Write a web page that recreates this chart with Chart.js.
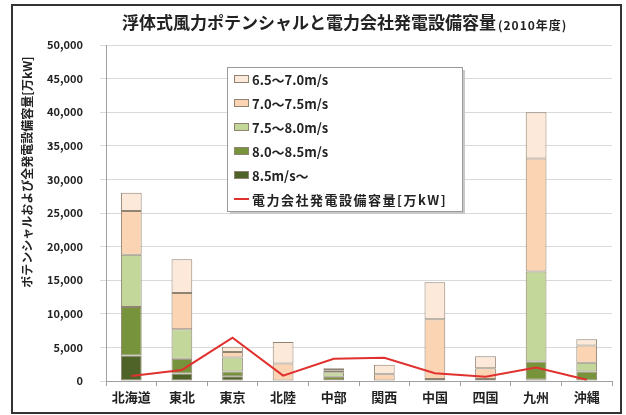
<!DOCTYPE html>
<html>
<head>
<meta charset="utf-8">
<script src="https://cdn.jsdelivr.net/npm/chart.js@4/dist/chart.umd.min.js"></script>
<style>
  html, body { margin: 0; padding: 0; background: #fff; }
  #wrap { width: 626px; height: 415px; position: relative; }
</style>
</head>
<body>
<div id="wrap"><canvas id="myChart" width="626" height="415"></canvas></div>
<script>
const regions = ['北海道', '東北', '東京', '北陸', '中部', '関西', '中国', '四国', '九州', '沖縄'];

// potential by wind speed [万kW], bottom of the stack first
const over85 = [3800, 1100, 700, 0, 100, 0, 0, 0, 200, 0];
const from80 = [7200, 2200, 700, 0, 550, 0, 0, 0, 2700, 1400];
const from75 = [7800, 4400, 2100, 0, 650, 0, 300, 300, 13400, 1300];
const from70 = [6500, 5400, 800, 2600, 300, 1000, 8900, 1600, 16800, 2600];
const from65 = [2700, 5000, 800, 3200, 300, 1400, 5500, 1800, 6900, 900];

// power company generating capacity [万kW]
const capacity = [750, 1650, 6450, 800, 3300, 3450, 1150, 650, 2000, 200];

const yTicks = [0, 5000, 10000, 15000, 20000, 25000, 30000, 35000, 40000, 45000, 50000];

const FONT = '"Noto Sans CJK JP", "Noto Sans", sans-serif';
const edge = '#8f8372';

function barSet(label, data, color) {
    return {
        type: 'bar',
        label: label,
        data: data,
        backgroundColor: color,
        borderColor: edge,
        borderWidth: 1,
        borderSkipped: false,
        barPercentage: 0.41,
        categoryPercentage: 1.0,
        order: 1
    };
}

const datasets = [
    barSet('8.5m/s～', over85, '#4f6228'),
    barSet('8.0～8.5m/s', from80, '#77933c'),
    barSet('7.5～8.0m/s', from75, '#c4d79b'),
    barSet('7.0～7.5m/s', from70, '#fbd4b4'),
    barSet('6.5～7.0m/s', from65, '#fde9d9'),
    {
        type: 'line',
        label: '電力会社発電設備容量[万kW]',
        data: capacity,
        borderColor: '#e0312f',
        borderWidth: 2,
        pointRadius: 0,
        tension: 0,
        fill: false,
        order: 0
    }
];

// title, axis title, legend box and outer frame
const decor = {
    id: 'decor',
    beforeDraw(chart) {
        const ctx = chart.ctx;
        ctx.save();
        ctx.fillStyle = '#fff';
        ctx.fillRect(0, 0, chart.width, chart.height);
        ctx.restore();
    },
    afterDraw(chart) {
        const ctx = chart.ctx;
        ctx.save();

        ctx.strokeStyle = '#333';
        ctx.lineWidth = 2;
        ctx.strokeRect(12, 5, 609, 408);

        // title
        ctx.fillStyle = '#222';
        ctx.textBaseline = 'middle';
        ctx.textAlign = 'left';
        ctx.font = 'bold 17px ' + FONT;
        const main = '浮体式風力ポテンシャルと電力会社発電設備容量';
        ctx.fillText(main, 122, 23);
        const w = ctx.measureText(main).width;
        ctx.font = 'bold 12px ' + FONT;
        ctx.letterSpacing = '1px';
        ctx.fillText('(2010年度)', 122 + w + 2, 25);
        ctx.letterSpacing = '0px';

        // y axis title
        ctx.save();
        ctx.translate(27, 172);
        ctx.rotate(-Math.PI / 2);
        ctx.textAlign = 'center';
        ctx.font = 'bold 12px ' + FONT;
        ctx.fillText('ポテンシャルおよび全発電設備容量[万kW]', 0, 0);
        ctx.restore();

        // legend
        const bx = 227, by = 67, bw = 235, bh = 144;
        ctx.fillStyle = '#c8c8c8';
        ctx.fillRect(bx + 3, by + 3, bw, bh);
        ctx.fillStyle = '#fff';
        ctx.fillRect(bx, by, bw, bh);
        ctx.strokeStyle = '#9a9a9a';
        ctx.lineWidth = 1;
        ctx.strokeRect(bx + 0.5, by + 0.5, bw, bh);

        const items = [4, 3, 2, 1, 0, 5];
        ctx.font = 'bold 13px ' + FONT;
        ctx.textAlign = 'left';
        items.forEach((di, i) => {
            const ds = chart.data.datasets[di];
            const y = 79 + i * 24;
            if (ds.type === 'line') {
                ctx.strokeStyle = ds.borderColor;
                ctx.lineWidth = 2;
                ctx.beginPath();
                ctx.moveTo(234, y);
                ctx.lineTo(249, y);
                ctx.stroke();
                ctx.letterSpacing = '1.5px';
            } else {
                ctx.fillStyle = ds.backgroundColor;
                ctx.fillRect(234, y - 4, 15, 8);
                ctx.strokeStyle = edge;
                ctx.lineWidth = 1;
                ctx.strokeRect(234.5, y - 3.5, 14, 7);
            }
            ctx.fillStyle = '#222';
            ctx.fillText(ds.label, 252, y + 1);
            ctx.letterSpacing = '0px';
        });

        ctx.restore();
    }
};

new Chart('myChart', {
    data: {
        labels: regions,
        datasets: datasets
    },
    options: {
        responsive: false,
        animation: false,
        layout: { padding: { left: 39, right: 14, top: 45, bottom: 0 } },
        plugins: {
            legend: { display: false },
            title: { display: false },
            tooltip: { enabled: false }
        },
        scales: {
            x: {
                stacked: true,
                afterFit(scale) { scale.height = 34; },
                grid: {
                    offset: true,
                    drawOnChartArea: false,
                    tickLength: 5,
                    color: '#a0a0a0'
                },
                border: { color: '#a0a0a0' },
                ticks: {
                    color: '#222',
                    padding: 3,
                    font: { family: FONT, size: 13, weight: 'bold' }
                }
            },
            y: {
                stacked: true,
                min: 0,
                max: 50000,
                afterFit(scale) { scale.width = 67; },
                afterBuildTicks(scale) {
                    scale.ticks = yTicks.map(v => ({ value: v }));
                },
                grid: {
                    color: '#d9d9d9',
                    tickLength: 6
                },
                border: { color: '#a0a0a0' },
                ticks: {
                    color: '#222',
                    padding: 17,
                    font: { family: FONT, size: 11, weight: 'bold' },
                    callback: v => v.toLocaleString('en-US')
                }
            }
        }
    },
    plugins: [decor]
});
</script>
</body>
</html>
